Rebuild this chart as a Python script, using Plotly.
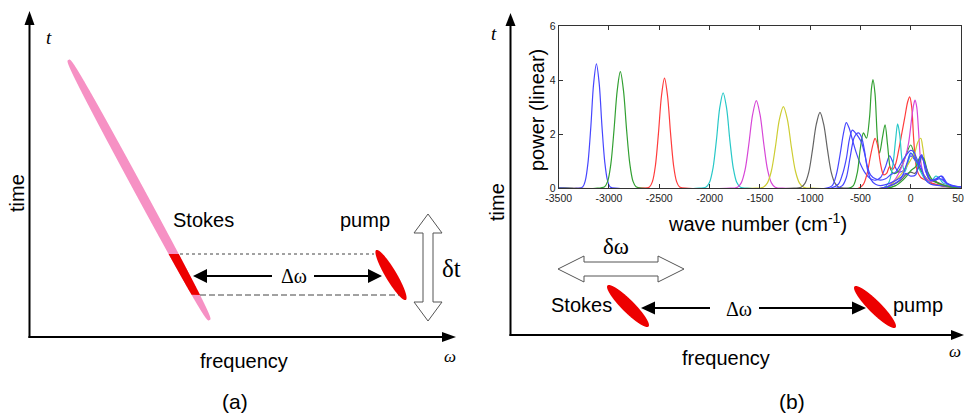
import numpy as np
import plotly.graph_objects as go

# ---------------- data (inset spectra) ----------------
wn_ticks = [-3500, -3000, -2500, -2000, -1500, -1000, -500, 0, 500]
pw_ticks = [0, 2, 4, 6]

blue1_x = [-3500, -3345, -3262, -3235, -3208, -3180, -3153, -3125, -3097, -3070, -3042, -3015, -2988, -2905, 500]
blue1_y = [0, 0, 0.05, 0.29, 0.97, 2.3, 3.86, 4.6, 3.86, 2.3, 0.97, 0.29, 0.05, 0, 0]
green1_x = [-3500, -3137, -3043, -3012, -2981, -2950, -2918, -2887, -2856, -2825, -2793, -2762, -2731, -2637, 500]
green1_y = [0, 0, 0.06, 0.27, 0.91, 2.16, 3.62, 4.31, 3.62, 2.16, 0.91, 0.27, 0.06, 0, 0]
red1_x = [-3500, -2688, -2598, -2568, -2538, -2508, -2478, -2448, -2418, -2388, -2358, -2328, -2298, -2208, 500]
red1_y = [0, 0, 0.05, 0.25, 0.85, 2.04, 3.42, 4.07, 3.42, 2.04, 0.85, 0.25, 0.05, 0, 0]
cyan1_x = [-3500, -2135, -2034, -2000, -1966, -1932, -1899, -1865, -1831, -1798, -1764, -1730, -1696, -1595, 500]
cyan1_y = [0, 0, 0.05, 0.22, 0.74, 1.77, 2.97, 3.53, 2.97, 1.77, 0.74, 0.22, 0.05, 0, 0]
mag1_x = [-3500, -1835, -1722, -1685, -1647, -1610, -1572, -1535, -1498, -1460, -1423, -1385, -1348, -1235, 500]
mag1_y = [0, 0, 0.04, 0.2, 0.68, 1.62, 2.72, 3.24, 2.72, 1.62, 0.68, 0.2, 0.04, 0, 0]
yel1_x = [-3500, -1586, -1466, -1426, -1386, -1346, -1306, -1266, -1226, -1186, -1146, -1106, -1066, -946, 500]
yel1_y = [0, 0, 0.04, 0.19, 0.63, 1.51, 2.54, 3.02, 2.54, 1.51, 0.63, 0.19, 0.04, 0, 0]
gray1_x = [-3500, -1202, -1089, -1052, -1014, -977, -939, -902, -865, -827, -790, -752, -715, -602, 500]
gray1_y = [0, 0, 0.04, 0.18, 0.59, 1.41, 2.36, 2.81, 2.36, 1.41, 0.59, 0.18, 0.04, 0, 0]

blue2_x = [-3500, -850, -780, -740, -700, -670, -640, -610, -580, -540, -500, -450, -400, -350, -300, -250, -210, -170, -120, -60, 0, 50, 100, 150, 200, 250, 300, 350, 400, 500]
blue2_y = [0, 0, 0.1, 0.5, 1.3, 2.0, 2.43, 2.2, 1.8, 1.3, 0.9, 0.55, 0.35, 0.3, 0.4, 0.8, 1.2, 0.9, 0.6, 0.7, 1.2, 1.0, 0.7, 0.35, 0.25, 0.3, 0.45, 0.2, 0.1, 0.05]
green2_x = [-3500, -620, -570, -530, -500, -470, -440, -410, -390, -375, -355, -330, -310, -280, -255, -230, -200, -170, -130, -80, -40, 0, 40, 80, 130, 200, 300, 400, 500]
green2_y = [0, 0, 0.1, 0.6, 1.5, 2.05, 1.85, 2.6, 3.7, 4.02, 3.5, 1.8, 1.3, 1.9, 2.35, 1.6, 0.7, 0.55, 0.6, 0.9, 1.3, 1.6, 1.2, 0.8, 0.5, 0.2, 0.1, 0.05, 0]
red2_x = [-3500, -520, -470, -430, -400, -370, -355, -330, -300, -270, -240, -210, -180, -150, -120, -90, -60, -30, -10, 10, 30, 60, 100, 150, 200, 300, 400, 500]
red2_y = [0, 0, 0.15, 0.6, 1.2, 1.7, 1.85, 1.6, 0.9, 0.5, 0.55, 0.8, 0.7, 0.9, 1.4, 2.0, 2.6, 3.2, 3.38, 3.0, 1.8, 0.7, 0.4, 0.3, 0.2, 0.1, 0.05, 0]
cyan2_x = [-3500, -280, -220, -180, -150, -130, -110, -85, -60, -30, 0, 30, 60, 100, 150, 200, 250, 280, 320, 400, 500]
cyan2_y = [0, 0, 0.2, 0.8, 1.8, 2.38, 2.0, 1.0, 0.6, 0.9, 1.3, 1.2, 0.9, 0.6, 0.3, 0.25, 0.45, 0.4, 0.2, 0.1, 0]
mag2_x = [-3500, -250, -200, -150, -100, -50, -20, 10, 30, 43, 60, 80, 100, 130, 170, 220, 280, 350, 450, 500]
mag2_y = [0, 0, 0.15, 0.35, 0.7, 1.2, 1.7, 2.6, 3.1, 3.26, 3.0, 2.0, 1.0, 0.5, 0.3, 0.25, 0.2, 0.1, 0.05, 0]
yel2_x = [-3500, -300, -200, -150, -100, -50, 0, 40, 70, 100, 120, 150, 200, 250, 300, 400, 500]
yel2_y = [0, 0, 0.1, 0.3, 0.5, 0.75, 1.05, 1.3, 1.7, 1.85, 1.5, 0.8, 0.35, 0.25, 0.15, 0.05, 0]
gray2_x = [-3500, -300, -200, -100, -50, 0, 40, 80, 110, 140, 180, 250, 300, 400, 500]
gray2_y = [0, 0, 0.1, 0.3, 0.5, 0.6, 0.55, 0.8, 1.15, 0.9, 0.35, 0.25, 0.15, 0.05, 0]
blue3_x = [-3500, -800, -720, -680, -640, -610, -580, -550, -520, -490, -460, -430, -400, -350, -300, -250, -200, -150, -100, -50, 0, 30, 60, 100, 150, 200, 300, 400, 500]
blue3_y = [0, 0, 0.15, 0.5, 1.1, 1.8, 2.15, 2.05, 1.9, 1.7, 1.3, 0.8, 0.5, 0.35, 0.3, 0.35, 0.5, 0.6, 0.9, 1.2, 1.4, 1.35, 1.1, 0.8, 0.3, 0.15, 0.1, 0.05, 0]
green3_x = [-3500, -250, -150, -80, -30, 0, 50, 100, 130, 170, 220, 300, 400, 500]
green3_y = [0, 0, 0.1, 0.3, 0.5, 0.65, 0.8, 1.2, 1.1, 0.6, 0.3, 0.15, 0.05, 0]
blue4_x = [-3500, -750, -680, -640, -600, -560, -520, -490, -460, -430, -400, -350, -300, -200, -100, -50, 0, 50, 100, 150, 200, 300, 350, 400, 500]
blue4_y = [0, 0, 0.1, 0.4, 1.2, 1.9, 2.05, 1.9, 1.4, 0.7, 0.35, 0.15, 0.1, 0.2, 0.4, 0.55, 0.45, 0.5, 1.2, 0.8, 0.3, 0.35, 0.2, 0.1, 0.05]
blue5_x = [-3500, -300, -200, -100, -40, 0, 40, 80, 110, 150, 200, 250, 310, 360, 420, 500]
blue5_y = [0, 0, 0.1, 0.35, 0.9, 1.3, 1.1, 0.9, 1.25, 0.6, 0.3, 0.35, 0.45, 0.2, 0.1, 0.05]

BLUE = "rgb(70,70,255)"
GREEN = "rgb(50,160,50)"
RED = "rgb(255,60,60)"
CYAN = "rgb(40,200,200)"
MAG = "rgb(215,70,215)"
YEL = "rgb(205,205,50)"
GRAY = "rgb(100,100,100)"

series = [
    (blue1_x, blue1_y, BLUE), (green1_x, green1_y, GREEN), (red1_x, red1_y, RED),
    (cyan1_x, cyan1_y, CYAN), (mag1_x, mag1_y, MAG), (yel1_x, yel1_y, YEL),
    (gray1_x, gray1_y, GRAY), (blue2_x, blue2_y, BLUE), (green2_x, green2_y, GREEN),
    (red2_x, red2_y, RED), (cyan2_x, cyan2_y, CYAN), (mag2_x, mag2_y, MAG),
    (yel2_x, yel2_y, YEL), (gray2_x, gray2_y, GRAY), (blue3_x, blue3_y, BLUE),
    (green3_x, green3_y, GREEN), (blue4_x, blue4_y, BLUE), (blue5_x, blue5_y, BLUE),
]

W, H = 964, 413
SANS = "Liberation Sans, Arial, sans-serif"
SERIF = "Liberation Serif, Times New Roman, serif"
PINK = "rgb(246,145,196)"
RED_FILL = "rgb(237,0,0)"

fig = go.Figure()

for xs, ys, col in series:
    fig.add_trace(go.Scatter(x=xs, y=ys, mode="lines", line=dict(color=col, width=1.2, shape="spline", smoothing=0.9),
                             showlegend=False, xaxis="x2", yaxis="y2", hoverinfo="skip"))

# ---------------- schematic geometry helpers ----------------
def ellipse_pts(cx, cy, a, b, ang, n=400, fullness=1.0):
    t = np.linspace(0, 2 * np.pi, n, endpoint=False)
    th = np.deg2rad(ang)
    u = a * np.cos(t)
    v = b * np.sign(np.sin(t)) * np.abs(np.sin(t)) ** fullness
    x = cx + u * np.cos(th) - v * np.sin(th)
    y = cy + u * np.sin(th) + v * np.cos(th)
    return x, y

def to_path(xs, ys):
    return "M " + " L ".join(f"{x:.2f},{y:.2f}" for x, y in zip(xs, ys)) + " Z"

shapes = []

def add_path(xs, ys, fill, line_color=None, width=0):
    shapes.append(dict(type="path", path=to_path(xs, ys), xref="x", yref="y",
                       fillcolor=fill, line=dict(color=line_color or fill, width=width), layer="above"))

def add_line(x0, y0, x1, y1, color="black", width=2, dash="solid"):
    shapes.append(dict(type="line", x0=x0, y0=y0, x1=x1, y1=y1, xref="x", yref="y",
                       line=dict(color=color, width=width, dash=dash), layer="above"))

# --- panel (a)
th_a = np.degrees(np.arctan2(262, 142))
px, py = ellipse_pts(139, 190, 148, 4.8, th_a, 2000, fullness=0.5)
add_path(px, py, PINK)
m = (py >= 254) & (py <= 295)
add_path(px[m], py[m], RED_FILL)
ex, ey = ellipse_pts(391, 275, 29, 5.6, 59.3)
add_path(ex, ey, RED_FILL)

add_line(180, 254, 374, 254, color="#444", width=1, dash="3px,3px")
add_line(200, 295, 399, 295, color="#444", width=1, dash="6px,3px")

# axes (a)
add_line(29.5, 338, 29.5, 22)
add_path([29.5, 24.5, 34.5], [11, 25, 25], "black")
add_line(28.5, 337, 444, 337)
add_path([456, 442, 442], [337, 332, 342], "black")

# delta-omega arrow (a)
add_line(206, 276, 272, 276, width=2)
add_line(314, 276, 369, 276, width=2)
add_path([193, 207, 207], [276, 269, 283], "black")
add_path([382, 368, 368], [276, 269, 283], "black")

# hollow vertical arrow (a)
add_path([428, 442, 433, 433, 442, 428, 414, 423, 423, 414],
         [214, 233, 233, 302, 302, 321, 302, 302, 233, 233], "white", "#555", 1)

# --- panel (b)
sx, sy = ellipse_pts(628, 306, 29, 6.3, 45)
add_path(sx, sy, RED_FILL)
qx, qy = ellipse_pts(875, 307, 29, 6.3, 45)
add_path(qx, qy, RED_FILL)

add_line(510.5, 336, 510.5, 24)
add_path([510.5, 505.5, 515.5], [13, 26, 26], "black")
add_line(509.5, 335, 953, 335)
add_path([964, 951, 951], [335, 330, 340], "black")

add_line(653, 308, 710, 308, width=2)
add_line(759, 308, 853, 308, width=2)
add_path([641, 655, 655], [308, 301.5, 314.5], "black")
add_path([866, 852, 852], [308, 301.5, 314.5], "black")

add_path([558, 584, 584, 658, 658, 684, 658, 658, 584, 584],
         [269, 256, 262, 262, 256, 269, 282, 276, 276, 282], "white", "#555", 1)

# ---------------- text ----------------
ann = []
def txt(x, y, s, size=20, family=SANS, angle=0, color="black"):
    ann.append(dict(x=x, y=y, xref="x", yref="y", text=s, showarrow=False, textangle=angle,
                    xanchor="center", yanchor="middle", font=dict(size=size, family=family, color=color)))

txt(49, 37, "<i>t</i>", 19, SERIF)
txt(450, 356, "<i>ω</i>", 17, SERIF)
txt(17, 193, "time", 20, SANS, -90)
txt(244, 361, "frequency", 20)
txt(235, 401, "(a)", 21)
txt(203, 220, "Stokes", 20)
txt(365, 220, "pump", 20)
txt(294, 276, "Δω", 20, SERIF)
txt(451, 268, "δt", 25, SERIF)

txt(494, 33, "<i>t</i>", 19, SERIF)
txt(955, 351, "<i>ω</i>", 17, SERIF)
txt(497, 202, "time", 20, SANS, -90)
txt(726, 358, "frequency", 20)
txt(792, 401, "(b)", 21)
txt(581, 305, "Stokes", 20)
txt(918, 305, "pump", 20)
txt(739, 309, "Δω", 20, SERIF)
txt(616, 246, "δω", 23, SERIF)
txt(537, 110, "power (linear)", 20, SANS, -90)
txt(757, 222, "wave number (cm<sup>-1</sup>)", 20)

fig.update_layout(
    template="none",
    width=W, height=H, margin=dict(l=0, r=0, t=0, b=0, pad=0, autoexpand=False),
    paper_bgcolor="white", plot_bgcolor="rgba(0,0,0,0)",
    shapes=shapes, annotations=ann, showlegend=False,
    xaxis=dict(range=[0, W], domain=[0, 1], visible=False, fixedrange=True, automargin=False),
    yaxis=dict(range=[H, 0], domain=[0, 1], visible=False, fixedrange=True, automargin=False),
    xaxis2=dict(domain=[558.7 / W, 961 / W], anchor="y2", range=[-3500, 500], automargin=False,
                tickvals=wn_ticks, ticktext=[str(v) for v in wn_ticks],
                ticks="inside", ticklen=4, tickcolor="#333", showline=True, linecolor="#333", linewidth=1,
                mirror="ticks", showgrid=False, zeroline=False, ticklabeloverflow="allow",
                tickfont=dict(size=10.5, family=SANS, color="#222")),
    yaxis2=dict(domain=[(H - 188.3) / H, (H - 26) / H], anchor="x2", range=[0, 6], automargin=False,
                tickvals=pw_ticks, ticks="inside", ticklen=4, tickcolor="#333",
                showline=True, linecolor="#333", linewidth=1, mirror="ticks",
                showgrid=False, zeroline=False,
                tickfont=dict(size=10.5, family=SANS, color="#222")),
)

fig.write_html("out.html", config={"displayModeBar": False},
               post_script="document.body.style.margin='0';document.body.style.overflow='hidden';")
